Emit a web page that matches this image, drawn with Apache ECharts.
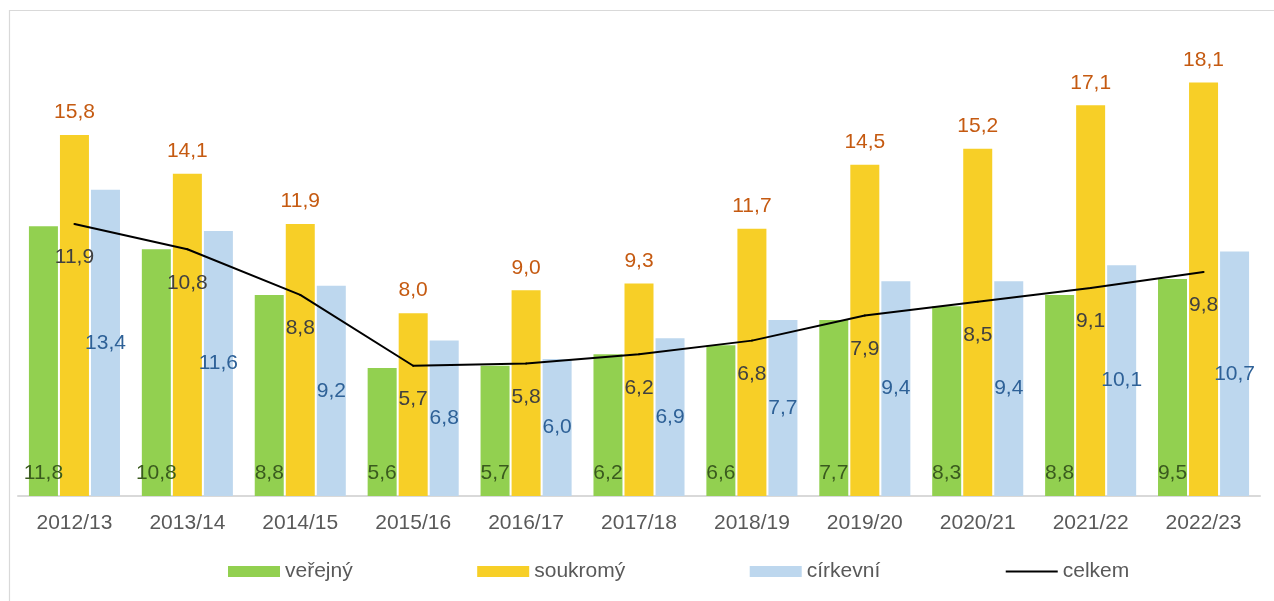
<!DOCTYPE html>
<html>
<head>
<meta charset="utf-8">
<script src="https://cdn.jsdelivr.net/npm/echarts@6/dist/echarts.min.js"></script>
<style>
html,body{margin:0;padding:0;background:#fff;}
#chart{width:1274px;height:601px;}
</style>
</head>
<body>
<div id="chart"></div>
<script>
const categories = ['2012/13','2013/14','2014/15','2015/16','2016/17','2017/18','2018/19','2019/20','2020/21','2021/22','2022/23'];
const verejny = [11.8, 10.8, 8.8, 5.6, 5.7, 6.2, 6.6, 7.7, 8.3, 8.8, 9.5];
const soukromy = [15.8, 14.1, 11.9, 8.0, 9.0, 9.3, 11.7, 14.5, 15.2, 17.1, 18.1];
const cirkevni = [13.4, 11.6, 9.2, 6.8, 6.0, 6.9, 7.7, 9.4, 9.4, 10.1, 10.7];
const celkem = [11.9, 10.8, 8.8, 5.7, 5.8, 6.2, 6.8, 7.9, 8.5, 9.1, 9.8];

const FONT = '"Liberation Sans", Arial, sans-serif';
const FS = 21;
const fmt = p => p.value.toFixed(1).replace('.', ',');

const chart = echarts.init(document.getElementById('chart'), null, {renderer: 'canvas'});
chart.setOption({
  animation: false,
  backgroundColor: '#fff',
  textStyle: {fontFamily: FONT},
  graphic: [{
    type: 'rect',
    shape: {x: 9.5, y: 10.5, width: 1400, height: 800},
    style: {fill: 'none', stroke: '#d9d9d9', lineWidth: 1.2},
    silent: true, z: -10
  }],
  grid: {left: 18, right: 14, top: 39, bottom: 105, containLabel: false},
  xAxis: {
    type: 'category',
    data: categories,
    axisLine: {lineStyle: {color: '#d9d9d9', width: 2}},
    axisTick: {show: false},
    axisLabel: {color: '#595959', fontSize: FS, fontFamily: FONT, margin: 17}
  },
  yAxis: {
    type: 'value', min: 0, max: 20, interval: 5,
    show: false
  },
  legend: {
    left: 223, top: 556,
    itemWidth: 52, itemHeight: 11, itemGap: 124.5,
    textStyle: {color: '#595959', fontSize: FS, fontFamily: FONT},
    data: [
      {name: 'veřejný', icon: 'rect'},
      {name: 'soukromý', icon: 'rect'},
      {name: 'církevní', icon: 'rect'},
      {name: 'celkem', itemStyle: {opacity: 0}}
    ]
  },
  series: [
    {
      name: 'veřejný', type: 'bar', data: verejny,
      barWidth: 29, barGap: '7%',
      itemStyle: {color: '#92D050'},
      label: {show: true, position: 'insideBottom', distance: 12, formatter: fmt,
        color: '#3A5A1E', fontSize: FS, fontFamily: FONT}
    },
    {
      name: 'soukromý', type: 'bar', data: soukromy,
      barWidth: 29, barGap: '7%',
      itemStyle: {color: '#F7CF27'},
      label: {show: true, position: 'top', distance: 12, formatter: fmt,
        color: '#C55A11', fontSize: FS, fontFamily: FONT}
    },
    {
      name: 'církevní', type: 'bar', data: cirkevni,
      barWidth: 29, barGap: '7%',
      itemStyle: {color: '#BDD7EE'},
      label: {show: true, position: 'inside', formatter: fmt,
        color: '#2E6197', fontSize: FS, fontFamily: FONT}
    },
    {
      name: 'celkem', type: 'line', data: celkem,
      symbol: 'circle', symbolSize: 2,
      itemStyle: {color: '#000'},
      lineStyle: {color: '#000', width: 2},
      z: 5,
      label: {show: true, position: 'bottom', distance: 22, formatter: fmt,
        color: '#404040', fontSize: FS, fontFamily: FONT}
    }
  ]
});
</script>
</body>
</html>
